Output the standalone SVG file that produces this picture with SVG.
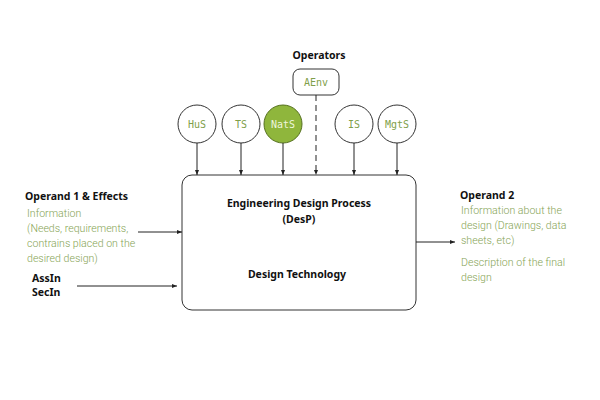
<svg xmlns="http://www.w3.org/2000/svg" width="600" height="400" viewBox="0 0 600 400">
<defs>
<marker id="ah" viewBox="0 0 10 10" refX="10" refY="5" markerWidth="5" markerHeight="5" orient="auto"><path d="M0,1 L10,5 L0,9 z" fill="#222"/></marker>
<style>
.title{font-family:"Noto Sans","Open Sans",sans-serif;font-weight:700;font-size:10.5px;fill:#111}
.body{font-family:"Roboto","Noto Sans",sans-serif;font-weight:300;font-size:10.6px;fill:#86a455}
.mono{font-family:"DejaVu Sans Mono","Liberation Mono",monospace;font-size:10px;fill:#7f9f4a;text-anchor:middle}
.circ{fill:#fff;stroke:#333;stroke-width:1}
.line{stroke:#222;stroke-width:1;fill:none}
</style>
</defs>
<rect width="600" height="400" fill="#fff"/>

<text class="title" x="319" y="59" text-anchor="middle">Operators</text>

<g id="AEnv"><rect x="293" y="69" width="46" height="26" rx="7" fill="#fff" stroke="#333"/><text class="mono" x="316" y="86">AEnv</text></g>
<g id="HuS"><circle class="circ" cx="197" cy="124" r="19"/><text class="mono" x="197" y="128">HuS</text></g>
<g id="TS"><circle class="circ" cx="241" cy="124" r="19"/><text class="mono" x="241" y="128">TS</text></g>
<g id="NatS"><circle cx="283" cy="124" r="19" fill="#8fb63c" stroke="#55701f"/><text class="mono" x="283" y="128" style="fill:#eef5dc">NatS</text></g>
<g id="IS"><circle class="circ" cx="354" cy="124" r="19"/><text class="mono" x="354" y="128">IS</text></g>
<g id="MgtS"><circle class="circ" cx="397" cy="124" r="19"/><text class="mono" x="397" y="128">MgtS</text></g>

<g id="DesP">
<rect x="182" y="175" width="234" height="135" rx="10" fill="#fff" stroke="#333"/>
<text class="title" x="299" y="207" text-anchor="middle">Engineering Design Process</text>
<text class="title" x="299" y="223" text-anchor="middle">(DesP)</text>
<text class="title" x="297" y="278" text-anchor="middle">Design Technology</text>
</g>

<g id="Operand1">
<text class="title" x="25" y="200">Operand 1 &amp; Effects</text>
<text class="body" x="27" y="217">Information</text>
<text class="body" x="27" y="232">(Needs, requirements,</text>
<text class="body" x="27" y="247">contrains placed on the</text>
<text class="body" x="27" y="262">desired design)</text>
</g>
<g id="AssIn">
<text class="title" x="32" y="282">AssIn</text>
<text class="title" x="32" y="296">SecIn</text>
</g>
<g id="Operand2">
<text class="title" x="460" y="199">Operand 2</text>
<text class="body" x="461" y="214">Information about the</text>
<text class="body" x="461" y="229">design (Drawings, data</text>
<text class="body" x="461" y="244">sheets, etc)</text>
<text class="body" x="461" y="266">Description of the final</text>
<text class="body" x="461" y="281">design</text>
</g>

<g id="connectors">
<line class="line" x1="197" y1="143" x2="197" y2="175" marker-end="url(#ah)"/>
<line class="line" x1="241" y1="143" x2="241" y2="175" marker-end="url(#ah)"/>
<line class="line" x1="283" y1="143" x2="283" y2="175" marker-end="url(#ah)"/>
<line class="line" x1="354" y1="143" x2="354" y2="175" marker-end="url(#ah)"/>
<line class="line" x1="397" y1="143" x2="397" y2="175" marker-end="url(#ah)"/>
<line class="line" x1="316" y1="95" x2="316" y2="175" stroke-dasharray="6,4" marker-end="url(#ah)"/>
<line class="line" x1="138" y1="232" x2="182" y2="232" marker-end="url(#ah)"/>
<line class="line" x1="77" y1="286" x2="177" y2="286" marker-end="url(#ah)"/>
<line class="line" x1="416" y1="242" x2="455" y2="242" marker-end="url(#ah)"/>
</g>
</svg>
